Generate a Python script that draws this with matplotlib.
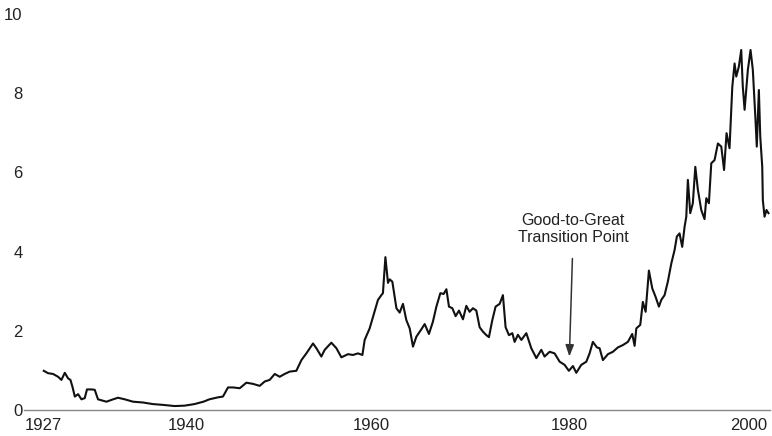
import matplotlib.pyplot as plt
import matplotlib.transforms as mtransforms

plt.rcParams['font.family'] = ['Liberation Sans', 'DejaVu Sans']

# Ratio series (decimal year, value)
years = [1927.0, 1927.43, 1927.94, 1928.44, 1928.78, 1929.12, 1929.45, 1929.69, 1929.89,
         1930.13, 1930.46, 1930.80, 1931.13, 1931.36, 1931.81, 1932.14, 1932.47, 1933.32,
         1933.99, 1934.49, 1935.17, 1936.0, 1937.0, 1938.0, 1939.0, 1940.2, 1941.2, 1942.2,
         1943.1, 1943.7, 1944.57, 1945.07, 1945.58, 1946.08, 1946.76, 1947.43, 1948.10,
         1948.77, 1949.28, 1949.78, 1950.29, 1950.79, 1951.29, 1951.80, 1952.47, 1952.98,
         1953.48, 1954.15, 1954.49, 1954.99, 1955.33, 1956.0, 1956.51, 1957.01, 1957.68,
         1958.18, 1958.68, 1959.13, 1959.36, 1959.86, 1960.37, 1960.70, 1961.04, 1961.20,
         1961.45, 1961.71, 1961.88, 1962.15, 1962.56, 1962.89, 1963.22, 1963.56, 1963.90,
         1964.23, 1964.57, 1965.08, 1965.41, 1965.84, 1966.24, 1966.59, 1966.99, 1967.32,
         1967.60, 1967.86, 1968.20, 1968.53, 1968.87, 1969.27, 1969.61, 1969.94, 1970.28,
         1970.62, 1970.95, 1971.28, 1971.63, 1971.89, 1972.23, 1972.56, 1972.97, 1973.30,
         1973.57, 1973.91, 1974.25, 1974.48, 1974.81, 1975.16, 1975.66, 1976.16, 1976.67,
         1977.17, 1977.50, 1978.01, 1978.51, 1979.02, 1979.52, 1979.95, 1980.36, 1980.70,
         1981.20, 1981.71, 1982.04, 1982.37, 1982.78, 1983.05, 1983.38, 1983.89, 1984.39,
         1984.89, 1985.40, 1985.90, 1986.34, 1986.58, 1986.75, 1987.15, 1987.41, 1987.69,
         1988.02, 1988.36, 1988.69, 1989.03, 1989.27, 1989.60, 1989.93, 1990.28, 1990.61,
         1990.84, 1991.11, 1991.38, 1991.62, 1991.79, 1991.95, 1992.19, 1992.45, 1992.70,
         1992.96, 1993.30, 1993.63, 1993.81, 1994.07, 1994.31, 1994.64, 1994.98, 1995.32,
         1995.60, 1995.85, 1996.15, 1996.43, 1996.66, 1996.83, 1997.09, 1997.33, 1997.49,
         1997.67, 1998.00, 1998.27, 1998.50, 1998.77, 1998.90, 1999.11, 1999.25, 1999.45,
         1999.51, 1999.68, 1999.88, 2000.08]
ratio = [0.99, 0.93, 0.91, 0.84, 0.76, 0.94, 0.80, 0.76, 0.59,
         0.34, 0.40, 0.27, 0.30, 0.52, 0.52, 0.51, 0.27, 0.21,
         0.27, 0.31, 0.27, 0.21, 0.19, 0.15, 0.13, 0.10, 0.11, 0.15,
         0.21, 0.27, 0.32, 0.34, 0.57, 0.57, 0.55, 0.69, 0.66,
         0.61, 0.72, 0.76, 0.91, 0.84, 0.91, 0.97, 0.99, 1.26,
         1.43, 1.68, 1.56, 1.35, 1.52, 1.70, 1.56, 1.33, 1.41,
         1.39, 1.43, 1.39, 1.77, 2.06, 2.50, 2.78, 2.90, 2.95,
         3.86, 3.21, 3.30, 3.24, 2.57, 2.46, 2.68, 2.27, 2.06,
         1.60, 1.85, 2.04, 2.17, 1.92, 2.23, 2.61, 2.95, 2.93,
         3.05, 2.61, 2.57, 2.37, 2.51, 2.29, 2.63, 2.48, 2.57,
         2.51, 2.09, 1.98, 1.89, 1.84, 2.27, 2.61, 2.68, 2.90,
         2.09, 1.89, 1.94, 1.72, 1.90, 1.77, 1.94, 1.56, 1.31,
         1.52, 1.35, 1.47, 1.43, 1.22, 1.14, 0.99, 1.11, 0.94,
         1.14, 1.22, 1.43, 1.72, 1.58, 1.56, 1.26, 1.41, 1.47,
         1.58, 1.64, 1.72, 1.92, 1.62, 2.06, 2.15, 2.73, 2.48,
         3.52, 3.07, 2.86, 2.61, 2.78, 2.90, 3.24, 3.70, 4.04,
         4.38, 4.46, 4.12, 4.63, 4.88, 5.81, 4.97, 5.22, 6.14,
         5.56, 5.05, 4.82, 5.35, 5.22, 6.23, 6.31, 6.73, 6.65,
         6.06, 6.99, 6.61, 8.16, 8.75, 8.42, 8.67, 9.09, 8.16,
         7.58, 8.59, 9.09, 8.59, 7.32, 6.65, 8.08, 6.90, 6.14,
         5.30, 4.88, 5.05, 4.97]

x_ticks = [1927, 1940, 1960, 1980, 2000]
y_ticks = [0, 2, 4, 6, 8, 10]
transition_year = 1980
transition_value = 1.35
note = 'Good-to-Great\nTransition Point'

fig = plt.figure(figsize=(7.72, 4.36), dpi=100)
ax = fig.add_axes([0.031, 0.0596, 0.966, 0.9084])

ax.plot(years, ratio, color='#111111', lw=1.5)

ax.set_xlim(1925, 2000.2)
ax.set_ylim(0, 10)
ax.set_xticks(x_ticks)
ax.set_yticks(y_ticks)
ax.set_xticklabels([str(y) for y in x_ticks])
ax.tick_params(length=0, labelsize=12, colors='#222222')
ax.tick_params(axis='x', pad=6)
ax.tick_params(axis='y', pad=1)

for s in ['top', 'right', 'left']:
    ax.spines[s].set_visible(False)
ax.spines['bottom'].set_color('#888888')
ax.spines['bottom'].set_linewidth(1)

# nudge a couple of year labels the way the original places them
labels = ax.get_xticklabels()
labels[1].set_transform(labels[1].get_transform() +
                        mtransforms.ScaledTranslation(14 / 100, 0, fig.dpi_scale_trans))
labels[-1].set_horizontalalignment('right')

ax.annotate(note, xy=(transition_year, transition_value), xytext=(transition_year + 0.4, 4.57),
            ha='center', va='center', fontsize=11.5, color='#222222', linespacing=1.1,
            arrowprops=dict(arrowstyle='-|>,head_length=0.6,head_width=0.22',
                            color='#333333', lw=1.1, shrinkA=8, shrinkB=0))

fig.savefig('out.png', dpi=100, facecolor='white')
